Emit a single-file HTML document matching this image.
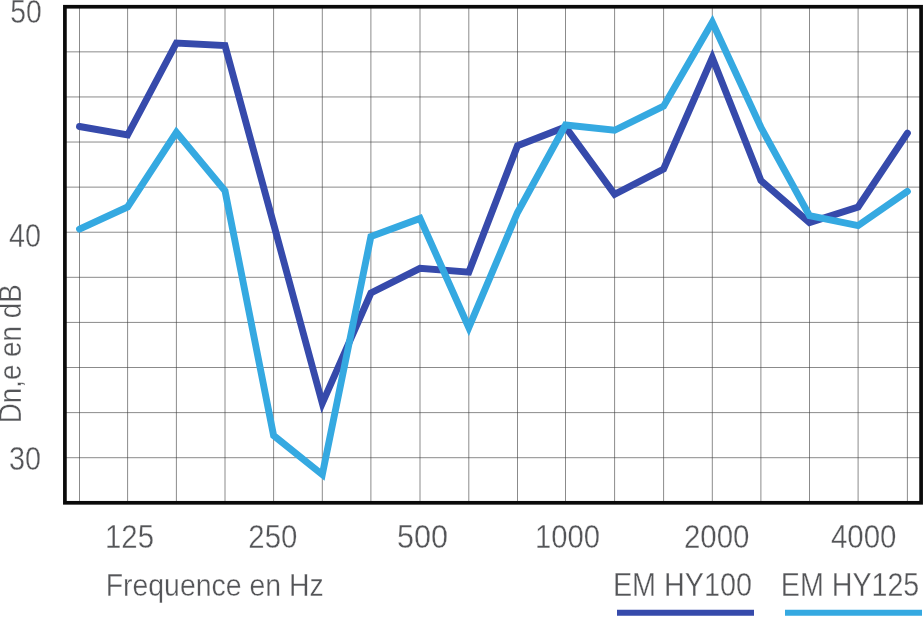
<!DOCTYPE html>
<html><head><meta charset="utf-8"><title>Dn,e chart</title>
<style>
html,body{margin:0;padding:0;background:#fff;}
svg{display:block;}
text{font-family:"Liberation Sans",sans-serif;font-size:33px;fill:#545558;stroke:#fff;stroke-width:0.35px;}
</style></head><body>
<svg width="924" height="617" viewBox="0 0 924 617">
<rect width="924" height="617" fill="#fff"/>
<g stroke="#3c3c3c" stroke-width="0.6" shape-rendering="auto"><line x1="79.50" y1="6.75" x2="79.50" y2="502.8"/><line x1="127.60" y1="6.75" x2="127.60" y2="502.8"/><line x1="176.40" y1="6.75" x2="176.40" y2="502.8"/><line x1="225.00" y1="6.75" x2="225.00" y2="502.8"/><line x1="273.60" y1="6.75" x2="273.60" y2="502.8"/><line x1="322.30" y1="6.75" x2="322.30" y2="502.8"/><line x1="370.90" y1="6.75" x2="370.90" y2="502.8"/><line x1="420.00" y1="6.75" x2="420.00" y2="502.8"/><line x1="468.80" y1="6.75" x2="468.80" y2="502.8"/><line x1="517.50" y1="6.75" x2="517.50" y2="502.8"/><line x1="565.50" y1="6.75" x2="565.50" y2="502.8"/><line x1="614.60" y1="6.75" x2="614.60" y2="502.8"/><line x1="663.60" y1="6.75" x2="663.60" y2="502.8"/><line x1="712.30" y1="6.75" x2="712.30" y2="502.8"/><line x1="760.90" y1="6.75" x2="760.90" y2="502.8"/><line x1="809.50" y1="6.75" x2="809.50" y2="502.8"/><line x1="858.10" y1="6.75" x2="858.10" y2="502.8"/><line x1="907.40" y1="6.75" x2="907.40" y2="502.8"/><line x1="64.9" y1="51.85" x2="921.1" y2="51.85"/><line x1="64.9" y1="96.94" x2="921.1" y2="96.94"/><line x1="64.9" y1="142.04" x2="921.1" y2="142.04"/><line x1="64.9" y1="187.13" x2="921.1" y2="187.13"/><line x1="64.9" y1="232.23" x2="921.1" y2="232.23"/><line x1="64.9" y1="277.32" x2="921.1" y2="277.32"/><line x1="64.9" y1="322.42" x2="921.1" y2="322.42"/><line x1="64.9" y1="367.51" x2="921.1" y2="367.51"/><line x1="64.9" y1="412.61" x2="921.1" y2="412.61"/><line x1="64.9" y1="457.70" x2="921.1" y2="457.70"/></g>
<rect x="64.9" y="6.75" width="856.2" height="496.05" fill="none" stroke="#0a0a0a" stroke-width="3.7"/>
<polyline points="79.5,126.5 127.6,135.0 176.4,43.0 225.0,45.5 273.6,224.0 322.3,403.3 370.9,293.0 420.0,268.3 468.8,272.2 517.5,145.7 565.5,127.0 614.6,194.3 663.6,169.0 712.3,57.8 760.9,180.5 809.5,222.6 858.1,207.0 907.4,133.2" fill="none" stroke="#364aab" stroke-width="6.9" stroke-linejoin="miter" stroke-miterlimit="10" stroke-linecap="round"/>
<polyline points="79.5,229.1 127.6,207.0 176.4,132.3 225.0,190.9 273.6,435.5 322.3,474.6 370.9,236.5 420.0,218.4 468.8,327.6 517.5,212.5 565.5,125.0 614.6,130.3 663.6,106.2 712.3,22.2 760.9,127.3 809.5,215.6 858.1,225.6 907.4,191.4" fill="none" stroke="#35a9e1" stroke-width="6.9" stroke-linejoin="miter" stroke-miterlimit="10" stroke-linecap="round"/>
<line x1="617" y1="612.85" x2="754" y2="612.85" stroke="#364aab" stroke-width="6.0"/>
<line x1="785" y1="612.85" x2="922" y2="612.85" stroke="#35a9e1" stroke-width="6.0"/>
<text x="10.3" y="23" textLength="31.5" lengthAdjust="spacingAndGlyphs" text-anchor="start" >50</text>
<text x="9.0" y="247.0" textLength="32" lengthAdjust="spacingAndGlyphs" text-anchor="start" >40</text>
<text x="9.0" y="469.8" textLength="32" lengthAdjust="spacingAndGlyphs" text-anchor="start" >30</text>
<text x="105" y="547.8" textLength="49" lengthAdjust="spacingAndGlyphs" text-anchor="start" >125</text>
<text x="248.3" y="547.8" textLength="49" lengthAdjust="spacingAndGlyphs" text-anchor="start" >250</text>
<text x="397" y="547.8" textLength="51" lengthAdjust="spacingAndGlyphs" text-anchor="start" >500</text>
<text x="535" y="547.8" textLength="65" lengthAdjust="spacingAndGlyphs" text-anchor="start" >1000</text>
<text x="684" y="547.8" textLength="65.5" lengthAdjust="spacingAndGlyphs" text-anchor="start" >2000</text>
<text x="831" y="547.8" textLength="65.5" lengthAdjust="spacingAndGlyphs" text-anchor="start" >4000</text>
<text x="105.7" y="595.6" textLength="218" lengthAdjust="spacingAndGlyphs" text-anchor="start" style="font-size:31px">Frequence en Hz</text>
<text x="612.9" y="596.2" textLength="139" lengthAdjust="spacingAndGlyphs" text-anchor="start" >EM HY100</text>
<text x="780.8" y="596.2" textLength="138.5" lengthAdjust="spacingAndGlyphs" text-anchor="start" >EM HY125</text>
<text transform="translate(21,423.3) rotate(-90)" x="0" y="0" style="font-size:31px" textLength="139" lengthAdjust="spacingAndGlyphs">Dn,e en dB</text>
</svg>
</body></html>
